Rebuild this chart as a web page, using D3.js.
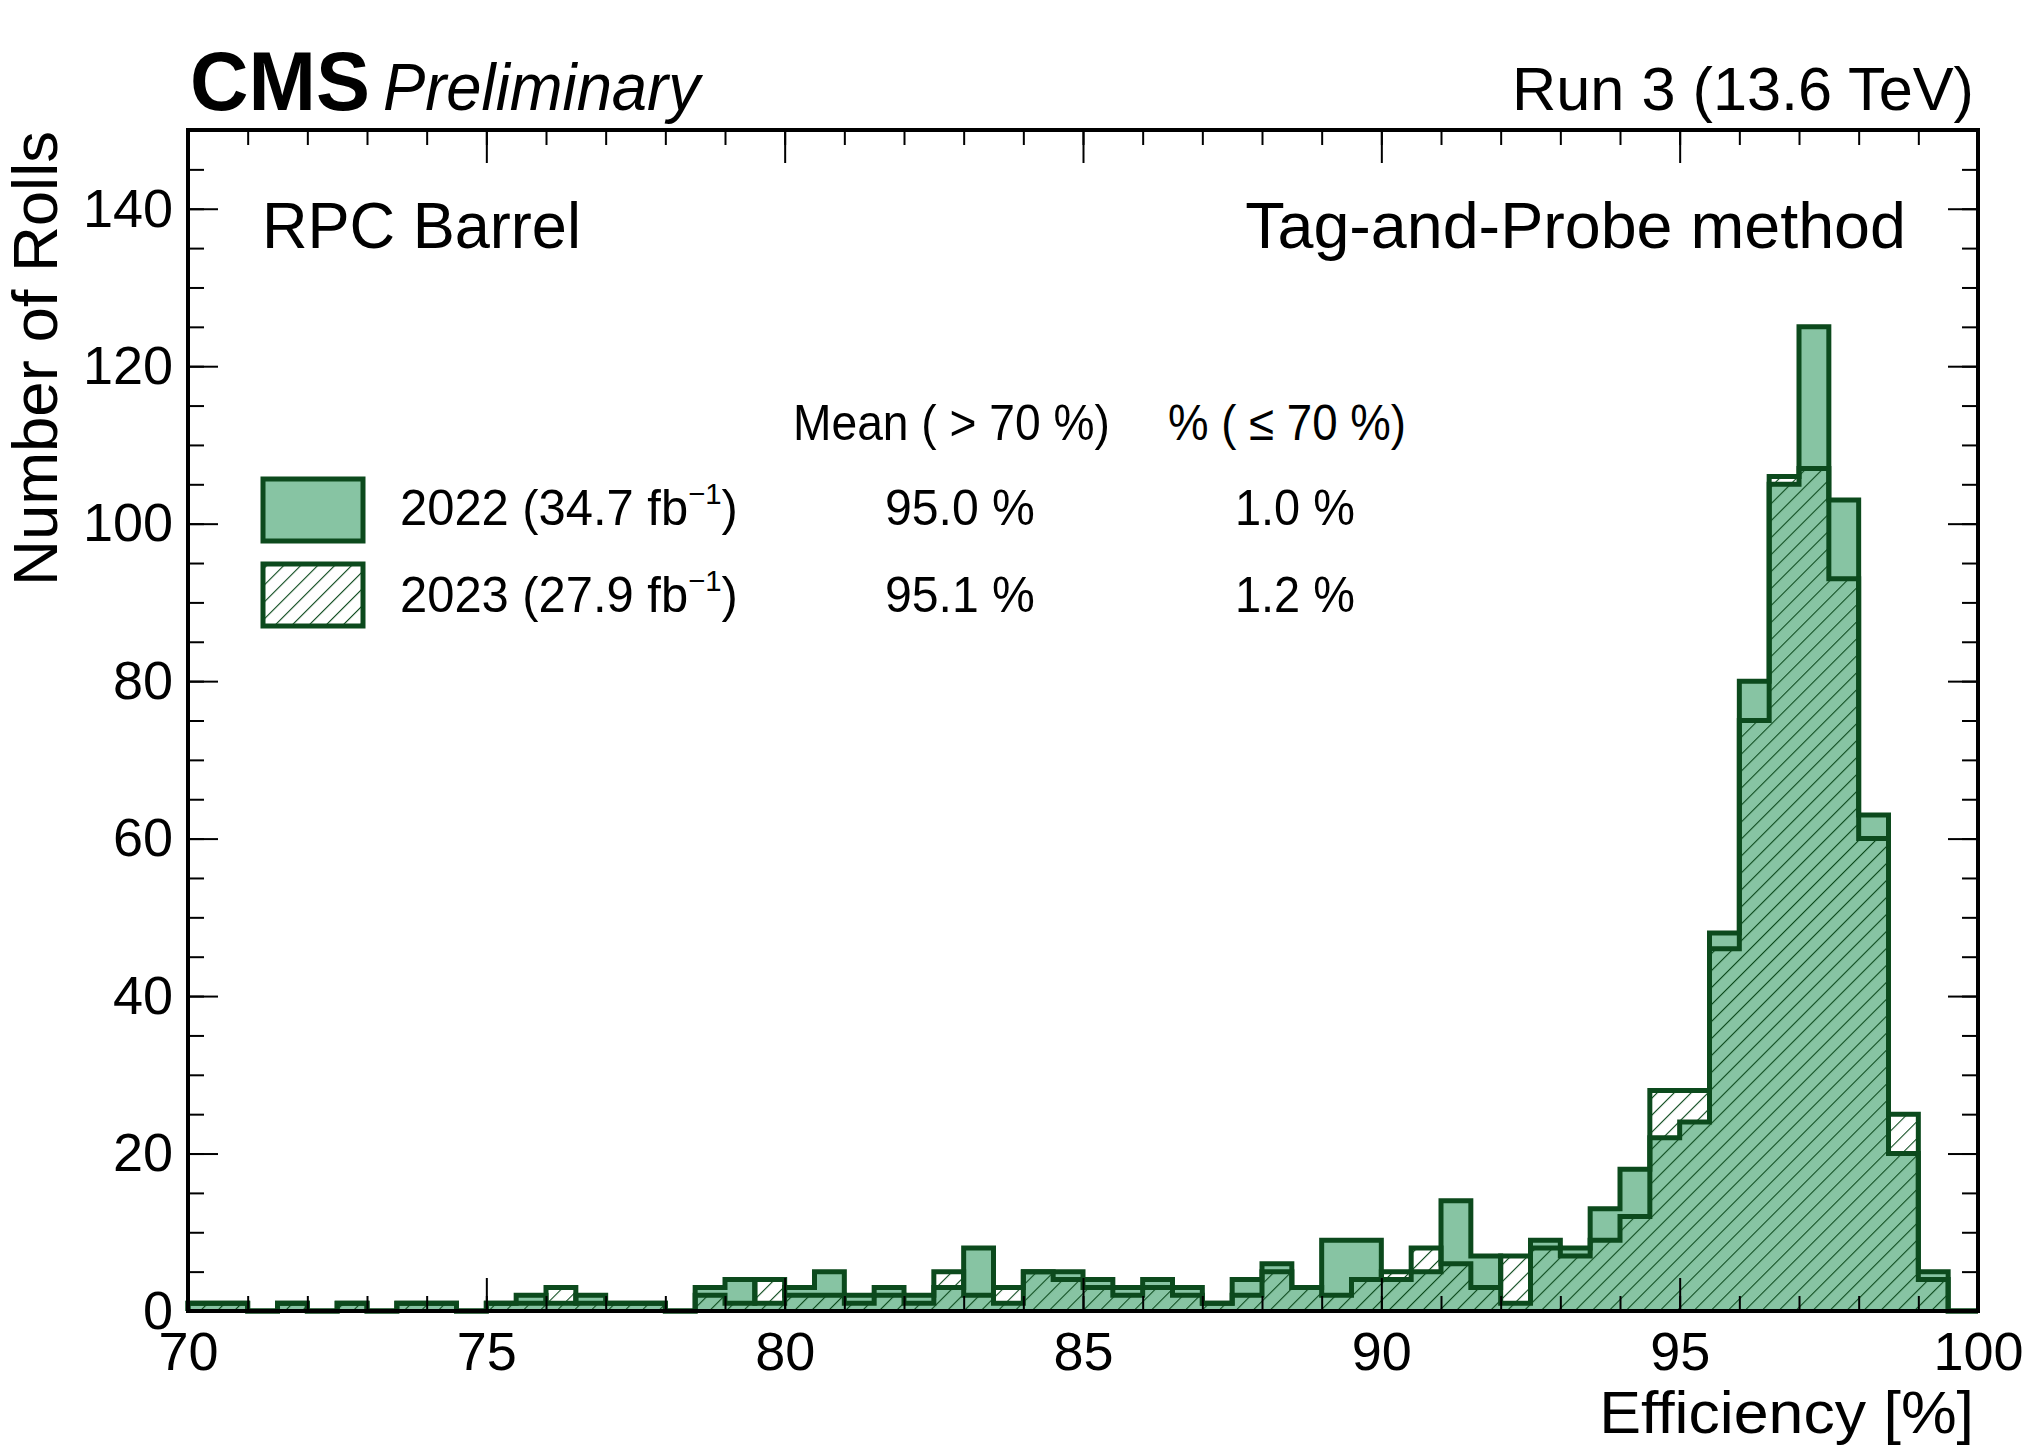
<!DOCTYPE html>
<html>
<head>
<meta charset="utf-8">
<script src="https://cdn.jsdelivr.net/npm/d3@7"></script>
<style>
  body { margin: 0; background: #fff; }
  text { font-family: "Liberation Sans", Arial, Helvetica, sans-serif; fill: #000; }
</style>
</head>
<body>
<div id="vis"></div>
<script>
// bin contents, 0.5 % wide bins from 70 to 100
const counts2022 = [1, 1, 0, 1, 0, 1, 0, 1, 1, 0,
  1, 2, 1, 2, 1, 1, 0, 3, 4, 1,
  3, 5, 2, 3, 2, 3, 8, 1, 5, 5,
  4, 3, 4, 3, 1, 4, 6, 3, 9, 9,
  4, 5, 14, 7, 1, 9, 8, 13, 18, 22,
  24, 48, 80, 105, 125, 103, 63, 20, 5, 0];
const counts2023 = [1, 1, 0, 1, 0, 1, 0, 1, 1, 0,
  1, 1, 3, 1, 1, 1, 0, 2, 1, 4,
  2, 2, 1, 2, 1, 5, 2, 3, 5, 4,
  3, 2, 3, 2, 1, 2, 5, 3, 2, 4,
  5, 8, 6, 3, 7, 8, 7, 9, 12, 28,
  28, 46, 75, 106, 107, 93, 60, 25, 4, 0];
const binEdges = d3.range(70, 100.001, 0.5);

const xTicks = [70, 75, 80, 85, 90, 95, 100];
const yTicks = [0, 20, 40, 60, 80, 100, 120, 140];

const legendLabels = ['2022 (34.7 fb', '2023 (27.9 fb'];
const legendMeans = ['95.0 %', '95.1 %'];
const legendLow = ['1.0 %', '1.2 %'];

const fillColor = '#87c4a3';
const lineColor = '#0c4a1d';

const W = 2023, H = 1449;
const margin = {top: 130, right: 45, bottom: 138, left: 188};

const svg = d3.select('#vis').append('svg')
  .attr('width', W)
  .attr('height', H);

svg.append('rect').attr('width', W).attr('height', H).attr('fill', '#fff');

const x = d3.scaleLinear().domain([70, 100]).range([margin.left, W - margin.right]);
const y = d3.scaleLinear().domain([0, 150]).range([H - margin.bottom, margin.top]);

// hatch pattern for 2023
const defs = svg.append('defs');
defs.append('pattern')
  .attr('id', 'hatch')
  .attr('patternUnits', 'userSpaceOnUse')
  .attr('width', 12).attr('height', 12)
  .attr('patternTransform', 'rotate(45)')
  .append('line')
  .attr('x1', 0).attr('y1', 0).attr('x2', 0).attr('y2', 12)
  .attr('stroke', lineColor).attr('stroke-width', 2.2);

// step outline of a histogram
function stepPoints(counts) {
  const pts = [[binEdges[0], 0]];
  counts.forEach((c, i) => {
    pts.push([binEdges[i], c]);
    pts.push([binEdges[i + 1], c]);
  });
  pts.push([binEdges[binEdges.length - 1], 0]);
  return pts;
}

const line = d3.line().x((d) => x(d[0])).y((d) => y(d[1]));
const area = d3.area().x((d) => x(d[0])).y0(y(0)).y1((d) => y(d[1]));

const pts22 = stepPoints(counts2022);
const pts23 = stepPoints(counts2023);

const plot = svg.append('g');
plot.append('path').attr('d', area(pts22)).attr('fill', fillColor);
plot.append('path').attr('d', area(pts23)).attr('fill', 'url(#hatch)');
plot.append('path').attr('d', line(pts22))
  .attr('fill', 'none').attr('stroke', lineColor).attr('stroke-width', 5);
plot.append('path').attr('d', line(pts23))
  .attr('fill', 'none').attr('stroke', lineColor).attr('stroke-width', 5);

// axes, ticks pointing inwards on all four sides
function styleAxis(g) {
  g.select('.domain').remove();
  g.selectAll('.tick line').attr('stroke', '#000').attr('stroke-width', 2);
}
const xMinor = d3.range(70, 100.001, 1);
const yMinor = d3.range(0, 150.001, 5);

svg.append('g').attr('transform', `translate(0,${y(0)})`)
  .call(d3.axisBottom(x).tickValues(xMinor).tickSize(-15).tickFormat(''))
  .call(styleAxis);
svg.append('g').attr('transform', `translate(0,${y(150)})`)
  .call(d3.axisTop(x).tickValues(xMinor).tickSize(-15).tickFormat(''))
  .call(styleAxis);
svg.append('g').attr('transform', `translate(0,${y(150)})`)
  .call(d3.axisTop(x).tickValues(xTicks).tickSize(-33).tickFormat(''))
  .call(styleAxis);
const gx = svg.append('g').attr('transform', `translate(0,${y(0)})`)
  .call(d3.axisBottom(x).tickValues(xTicks).tickSize(-33).tickPadding(21).tickFormat(d3.format('d')))
  .call(styleAxis);
gx.selectAll('text').style('font-size', '54px').attr('fill', '#000');

svg.append('g').attr('transform', `translate(${x(70)},0)`)
  .call(d3.axisLeft(y).tickValues(yMinor).tickSize(-16).tickFormat(''))
  .call(styleAxis);
svg.append('g').attr('transform', `translate(${x(100)},0)`)
  .call(d3.axisRight(y).tickValues(yMinor).tickSize(-16).tickFormat(''))
  .call(styleAxis);
svg.append('g').attr('transform', `translate(${x(100)},0)`)
  .call(d3.axisRight(y).tickValues(yTicks).tickSize(-30).tickFormat(''))
  .call(styleAxis);
const gy = svg.append('g').attr('transform', `translate(${x(70)},0)`)
  .call(d3.axisLeft(y).tickValues(yTicks).tickSize(-30).tickPadding(15).tickFormat(d3.format('d')))
  .call(styleAxis);
gy.selectAll('text').style('font-size', '54px').attr('fill', '#000');

// frame
svg.append('rect')
  .attr('x', x(70)).attr('y', y(150))
  .attr('width', x(100) - x(70)).attr('height', y(0) - y(150))
  .attr('fill', 'none').attr('stroke', '#000').attr('stroke-width', 4);

// squeeze a text to the width it has in the reference
function label(px, py, str, size, width, opts = {}) {
  const t = svg.append('text')
    .attr('text-anchor', opts.anchor || 'start')
    .style('font-size', size + 'px')
    .style('font-weight', opts.weight || 'normal')
    .style('font-style', opts.style || 'normal')
    .text(str);
  if (opts.sup) {
    t.append('tspan').attr('dy', -size * 0.42).style('font-size', (size * 0.6) + 'px').text('\u22121');
    t.append('tspan').attr('dy', size * 0.42).text(')');
  }
  const w = t.node().getComputedTextLength();
  const s = width ? width / w : 1;
  t.attr('transform', `translate(${px},${py}) ${opts.rotate ? 'rotate(-90)' : ''} scale(${s},1)`);
  return t;
}

label(190, 110, 'CMS', 84, 180, {weight: 'bold'});
label(383, 110, 'Preliminary', 66, 317, {style: 'italic'});
label(1974, 110, 'Run 3 (13.6 TeV)', 62, 462, {anchor: 'end'});
label(262, 248, 'RPC Barrel', 64, 319);
label(1906, 248, 'Tag-and-Probe method', 64, 661, {anchor: 'end'});
label(1974, 1433, 'Efficiency [%]', 60, 375, {anchor: 'end'});
label(57, 131, 'Number of Rolls', 63, 455, {anchor: 'end', rotate: true});

// legend
label(793, 440, 'Mean ( > 70 %)', 50, 317);
label(1168, 440, '% ( \u2264 70 %)', 50, 238);

const rowY = [525, 612];
const boxY = [479, 564];
legendLabels.forEach((lab, i) => {
  svg.append('rect')
    .attr('x', 263).attr('y', boxY[i])
    .attr('width', 100).attr('height', 62)
    .attr('fill', i === 0 ? fillColor : 'url(#hatch)')
    .attr('stroke', lineColor).attr('stroke-width', 5);
  label(400, rowY[i], lab, 50, 338, {sup: true});
  label(885, rowY[i], legendMeans[i], 50, 150);
  label(1235, rowY[i], legendLow[i], 50, 120);
});
</script>
</body>
</html>
